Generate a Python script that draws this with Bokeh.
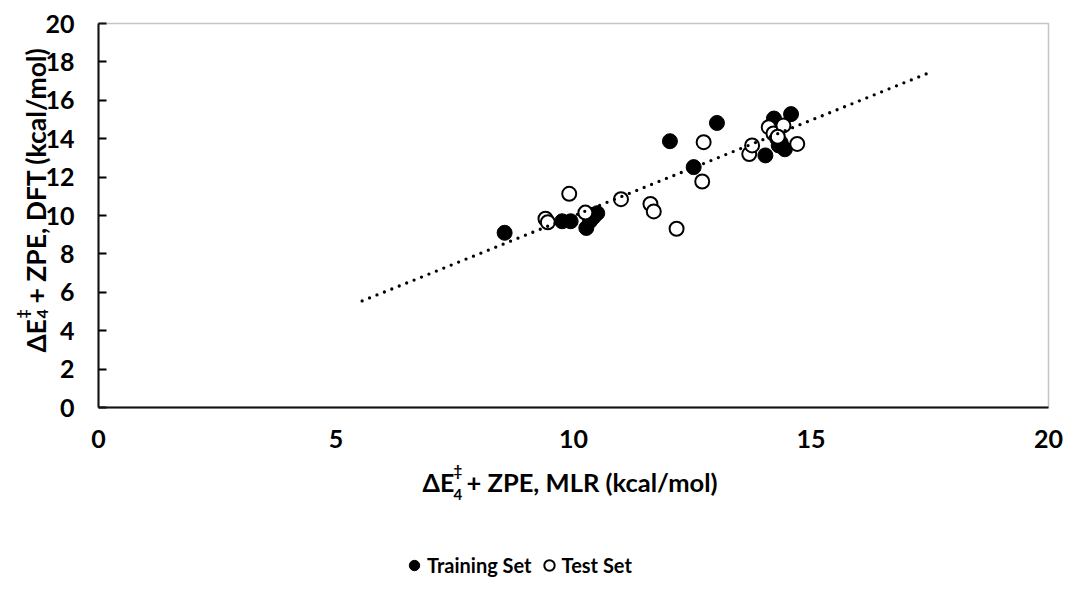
import math
from bokeh.plotting import figure
from bokeh.models import Range1d, FixedTicker, Label, Legend, LegendItem, BoxAnnotation
from bokeh.embed import file_html
from bokeh.resources import INLINE

# ---- data ----
train_x = [8.55, 9.76, 9.94, 10.27, 10.35, 10.42, 10.50, 12.03, 12.53, 13.02,
           14.04, 14.22, 14.29, 14.36, 14.45, 14.58, 14.32]
train_y = [9.10, 9.70, 9.70, 9.35, 9.72, 9.92, 10.12, 13.87, 12.52, 14.82,
           13.13, 15.05, 14.00, 13.80, 13.45, 15.28, 13.65]
test_x = [9.41, 9.46, 9.91, 10.25, 11.00, 11.62, 11.69, 12.17, 12.71, 12.74,
          13.70, 13.76, 14.11, 14.21, 14.42, 14.71, 14.30]
test_y = [9.83, 9.65, 11.13, 10.15, 10.85, 10.60, 10.21, 9.31, 11.77, 13.82,
          13.20, 13.65, 14.60, 14.27, 14.69, 13.73, 14.10]
trend_x = [5.55, 17.50]
trend_y = [5.55, 17.45]
x_ticks = [0, 5, 10, 15, 20]
y_ticks = [0, 2, 4, 6, 8, 10, 12, 14, 16, 18, 20]
legend_labels = ["Training Set", "Test Set"]

W, H = 1065, 603
L, R, T, B = 98, 1048, 23, 407      # plot-area box in canvas pixels
FONT = "Lato"
XMIN, XMAX, YMIN, YMAX = 0, 20, 0, 20
sx = (R - L) / (XMAX - XMIN)
sy = (B - T) / (YMAX - YMIN)

p = figure(width=W, height=H, output_backend="svg", toolbar_location=None,
           x_range=Range1d(XMIN - L / sx, XMAX + (W - R) / sx),
           y_range=Range1d(YMIN - (H - B) / sy, YMAX + T / sy),
           min_border=0)
p.background_fill_color = "white"
p.border_fill_color = "white"
p.outline_line_color = None
p.xgrid.visible = False
p.ygrid.visible = False

# plot-area border
p.add_layout(BoxAnnotation(left=XMIN, right=XMAX, bottom=YMIN, top=YMAX,
                           fill_alpha=0, line_color="#404040", line_width=1.5))

for ax in (p.xaxis[0], p.yaxis[0]):
    ax.fixed_location = 0
    ax.bounds = (0, 20)
    ax.axis_line_color = "black"
    ax.axis_line_width = 2
    ax.major_label_text_font = FONT
    ax.major_label_text_font_style = "bold"
    ax.major_label_text_font_size = "25px"
    ax.major_label_text_color = "black"
    ax.minor_tick_line_color = None
    ax.major_tick_line_color = "black"
    ax.major_tick_line_width = 2

p.xaxis.ticker = FixedTicker(ticks=x_ticks)
p.yaxis.ticker = FixedTicker(ticks=y_ticks)
p.xaxis.major_tick_in = 0
p.xaxis.major_tick_out = 0
p.yaxis.major_tick_in = 8
p.yaxis.major_tick_out = 0
p.xaxis.major_label_standoff = 22
p.yaxis.major_label_standoff = 24

r_train = p.scatter(train_x, train_y, marker="circle", size=15,
                    fill_color="black", line_color="black", line_width=1)
r_test = p.scatter(test_x, test_y, marker="circle", size=14,
                   fill_color="white", line_color="black", line_width=2)
p.line(trend_x, trend_y, line_color="black", line_width=3.3,
       line_dash="0 8", line_cap="round")


def lab(text, cx, cy, size, angle=0.0):
    # canvas pixel coordinates (from top-left) -> screen units of the frame
    p.add_layout(Label(x=cx, y=H - cy, x_units="screen", y_units="screen",
                       text=text, text_font=FONT, text_font_style="bold",
                       text_font_size=f"{size}px", text_color="black",
                       text_align="left", text_baseline="alphabetic",
                       angle=angle))


# x axis title: ΔE4‡ + ZPE, MLR (kcal/mol)
lab("ΔE", 422, 481, 25)
lab("4", 453, 494, 15)
lab("‡", 453, 469, 15)
lab("+ ZPE, MLR (kcal/mol)", 466, 481, 25.5)

# y axis title (rotated, reading upward)
a = math.pi / 2
lab("ΔE", 35, 352, 26, a)
lab("4", 42, 318, 16, a)
lab("‡", 21, 318, 16, a)
lab("+ ZPE, DFT (kcal/mol)", 35, 303, 26.5, a)

legend = Legend(items=[LegendItem(label=legend_labels[0], renderers=[r_train]),
                       LegendItem(label=legend_labels[1], renderers=[r_test])],
                orientation="horizontal", location=(401, H - 579),
                label_text_font=FONT, label_text_font_style="bold",
                label_text_font_size="20px", label_text_color="black",
                border_line_color=None, background_fill_alpha=0,
                glyph_width=26, glyph_height=28, label_standoff=0,
                spacing=4, padding=0, margin=0)
p.add_layout(legend)

open("out.html", "w").write(file_html(p, INLINE))
